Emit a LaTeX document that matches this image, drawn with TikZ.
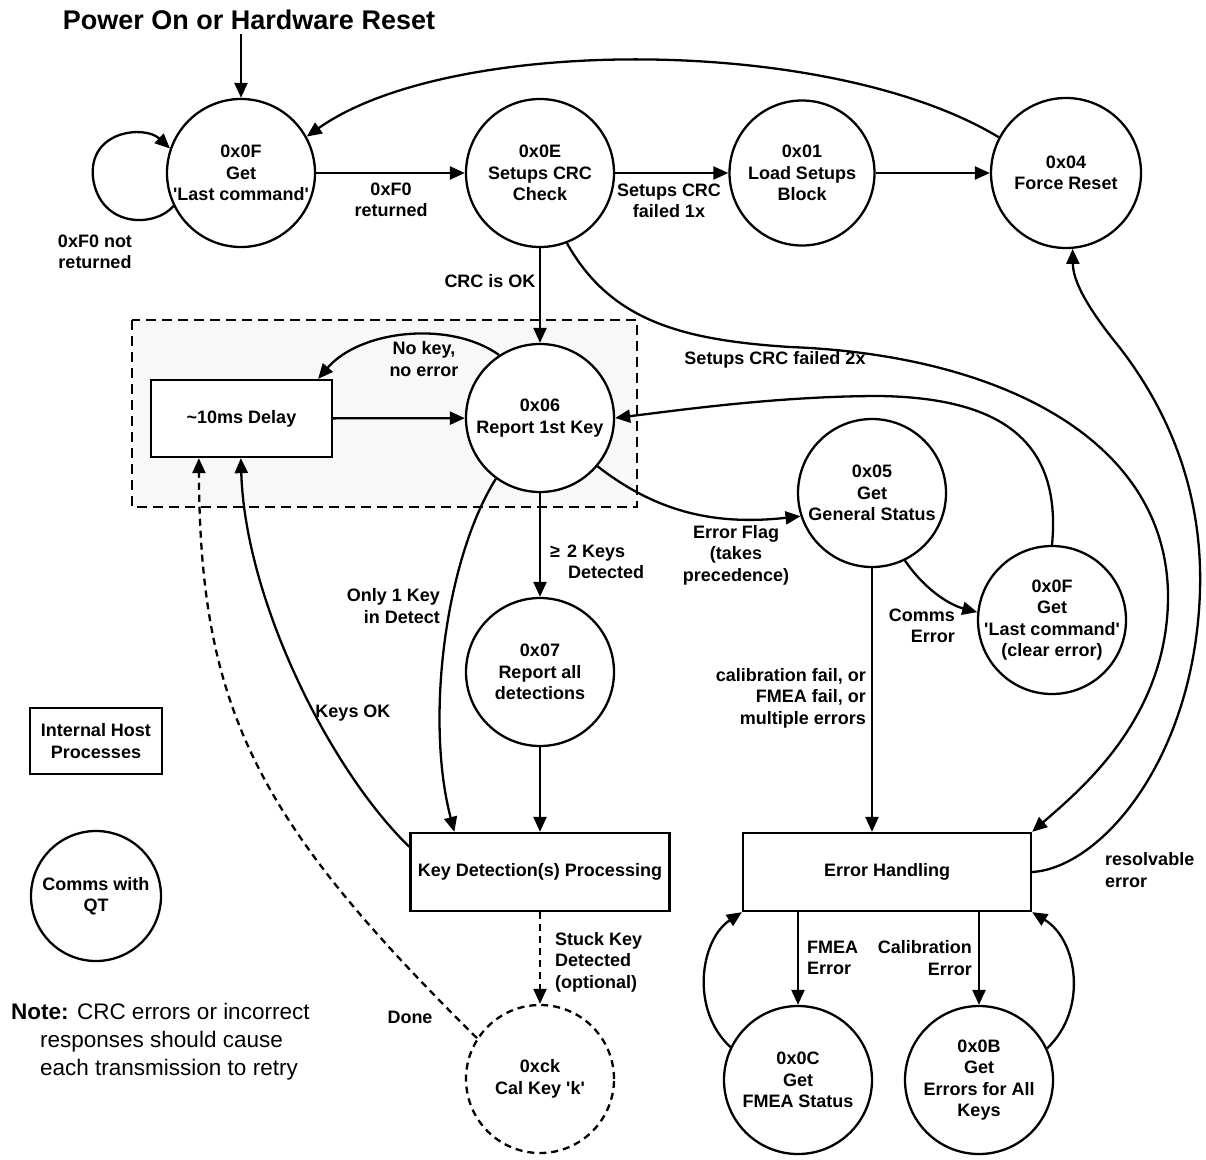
\documentclass[tikz,border=0pt]{standalone}
\usepackage{fontspec}
\setmainfont{Liberation Sans}
\usetikzlibrary{arrows.meta}
\definecolor{grpfill}{HTML}{F8F8F8}
\begin{document}
\begin{tikzpicture}[x=1pt,y=-1pt,
  every node/.style={font=\fontsize{18}{21.5}\selectfont\bfseries},
  state/.style={circle, draw, line width=2.3pt, fill=white, minimum size=148pt, inner sep=0pt},
  proc/.style={rectangle, draw, line width=2.3pt, fill=white, inner sep=0pt, align=center},
  lbl/.style={inner sep=0pt, align=center},
  arr/.style={line width=2.3pt, -{Triangle[length=15pt,width=13pt]}},
  dsh/.style={dash pattern=on 7pt off 5pt}]
\useasboundingbox (0,0) rectangle (1206,1159);
% grouping region
\draw[line width=1.5pt, dash pattern=on 10pt off 6pt, fill=grpfill] (132,320) rectangle (637,507);

% title
\node[lbl, font=\fontsize{27}{32}\selectfont\bfseries] (title) at (249,20) {Power On or Hardware Reset};

% states
\node[state, label={[lbl]center:{0x0F\\Get\\\textquotesingle Last command\textquotesingle}}] (n0F) at (241,173) {};
\node[state, label={[lbl]center:{0x0E\\Setups CRC\\Check}}] (n0E) at (540,173) {};
\node[state, minimum size=145pt, label={[lbl]center:{0x01\\Load Setups\\Block}}] (n01) at (802,173) {};
\node[state, minimum size=150pt, label={[lbl]center:{0x04\\Force Reset}}] (n04) at (1066,173) {};
\node[state, label={[lbl]center:{0x06\\Report 1st Key}}] (n06) at (540,418) {};
\node[state, label={[lbl]center:{0x07\\Report all\\detections}}] (n07) at (540,672) {};
\node[state, label={[lbl]center:{0x05\\Get\\General Status}}] (n05) at (872,493) {};
\node[state, label={[lbl]center:{0x0F\\Get\\\textquotesingle Last command\textquotesingle\\(clear error)}}] (n0F2) at (1052,620) {};
\node[state, label={[lbl]center:{0x0C\\Get\\FMEA Status}}] (n0C) at (798,1080) {};
\node[state, label={[lbl]center:{0x0B\\Get\\Errors for All\\Keys}}] (n0B) at (979,1080) {};
\node[state, dsh, label={[lbl]center:{0xck\\Cal Key \textquotesingle k\textquotesingle}}] (nck) at (540,1079) {};

% processes
\node[proc, minimum width=181pt, minimum height=77pt] (delay) at (241.5,418.5) {\textasciitilde 10ms Delay};
\node[proc, minimum width=259pt, minimum height=78pt] (keydet) at (540,872) {Key Detection(s) Processing};
\node[proc, minimum width=288pt, minimum height=78pt] (eh) at (887,872) {Error Handling};

% legend
\node[proc, minimum width=132pt, minimum height=66pt] (legbox) at (96,741) {Internal Host\\Processes};
\node[state, minimum size=130pt, label={[lbl]center:{Comms with\\QT}}] (legcirc) at (96,896) {};
\node[lbl, anchor=west, align=left, font=\fontsize{22.5}{28}\selectfont\mdseries] (note) at (40,1042) {\hspace*{-29pt}\textbf{Note:} CRC errors or incorrect\\responses should cause\\each transmission to retry};

% edge labels
\node[lbl] (l1) at (95,252) {0xF0 not\\returned};
\node[lbl] (l2) at (391,200) {0xF0\\returned};
\node[lbl] (l3) at (669,201) {Setups CRC\\failed 1x};
\node[lbl] (l4) at (490,281) {CRC is OK};
\node[lbl] (l5) at (775,360) {Setups CRC failed 2x};
\node[lbl] (l6) at (424,359) {No key,\\no error};
\node[lbl, anchor=west, align=left] (l7) at (550,562) {≥\hspace{7pt}2 Keys\\\hspace*{18pt}Detected};
\node[lbl] (l8) at (736,555) {Error Flag\\(takes\\precedence)};
\node[lbl, anchor=east, align=right] (l9) at (440,606) {Only 1 Key\\in Detect};
\node[lbl] (l10) at (353,713) {Keys OK};
\node[lbl, anchor=east, align=right] (l11) at (955,626) {Comms\\Error};
\node[lbl, anchor=east, align=right] (l12) at (866,698) {calibration fail, or\\FMEA fail, or\\multiple errors};
\node[lbl, anchor=west, align=left] (l13) at (1105,870) {resolvable\\error};
\node[lbl, anchor=west, align=left] (l14) at (807,958) {FMEA\\Error};
\node[lbl, anchor=east, align=right] (l15) at (972,958) {Calibration\\Error};
\node[lbl, anchor=west, align=left] (l16) at (555,962) {Stuck Key\\Detected\\(optional)};
\node[lbl] (l17) at (410,1017) {Done};

% connectors
\draw[arr] ([yshift=-4pt]n0F |- title.south) -- (n0F.north);
\draw[arr] (n0F.206) .. controls (155,228) and (100,228) .. (93,178) .. controls (88,130) and (145,125) .. (n0F.161);
\draw[arr] (n0F) -- (n0E);
\draw[arr] (n0E) -- (n01);
\draw[arr] (n01) -- (n04);
\draw[arr] (n04.152) .. controls (830,35) and (450,35) .. (n0F.29);
\draw[arr] (n0E) -- (n06);
\draw[arr] (n0E.291) .. controls (610,320) and (680,340) .. (790,347) .. controls (1000,355) and (1170,440) .. (1168,600) .. controls (1166,720) and (1080,790) .. (eh.north east);
\draw[arr] (eh.east) .. controls (1100,868) and (1195,760) .. (1200,590) .. controls (1203,480) and (1160,400) .. (1120,348) .. controls (1085,305) and (1073,280) .. (n04.-85);
\draw[arr] (delay) -- (n06);
\draw[arr] (n06.123) .. controls (450,320) and (360,330) .. ([xshift=-15pt]delay.north east);
\draw[arr] (n06) -- (n07);
\draw[arr] (n07) -- (keydet);
\draw[arr] (n06.234) .. controls (445,560) and (425,720) .. ([xshift=45pt]keydet.north west);
\draw[arr] ([yshift=-15pt]keydet.north west) .. controls (330,770) and (245,600) .. ([xshift=91pt]delay.south west);
\draw[arr,dsh] (keydet) -- (nck);
\draw[arr,dsh] (nck.147) .. controls (256,820) and (200,708) .. ([xshift=49pt]delay.south west);
\draw[arr] (n06.-40) .. controls (660,515) and (720,525) .. (n05.198);
\draw[arr] (n05.-64) .. controls (925,590) and (950,605) .. (n0F2.174);
\draw[arr] (n0F2.north) .. controls (1062,440) and (1000,398) .. (880,396) .. controls (780,396) and (680,410) .. (n06.east);
\draw[arr] (n05) -- (n05 |- eh.north);
\draw[arr] (eh.south -| n0C) -- (n0C.north);
\draw[arr] (eh.south -| n0B) -- (n0B.north);
\draw[arr] (n0C.154) .. controls (690,1010) and (700,940) .. (eh.south west);
\draw[arr] (n0B.25) .. controls (1088,1010) and (1078,940) .. (eh.south east);
\end{tikzpicture}
\end{document}
